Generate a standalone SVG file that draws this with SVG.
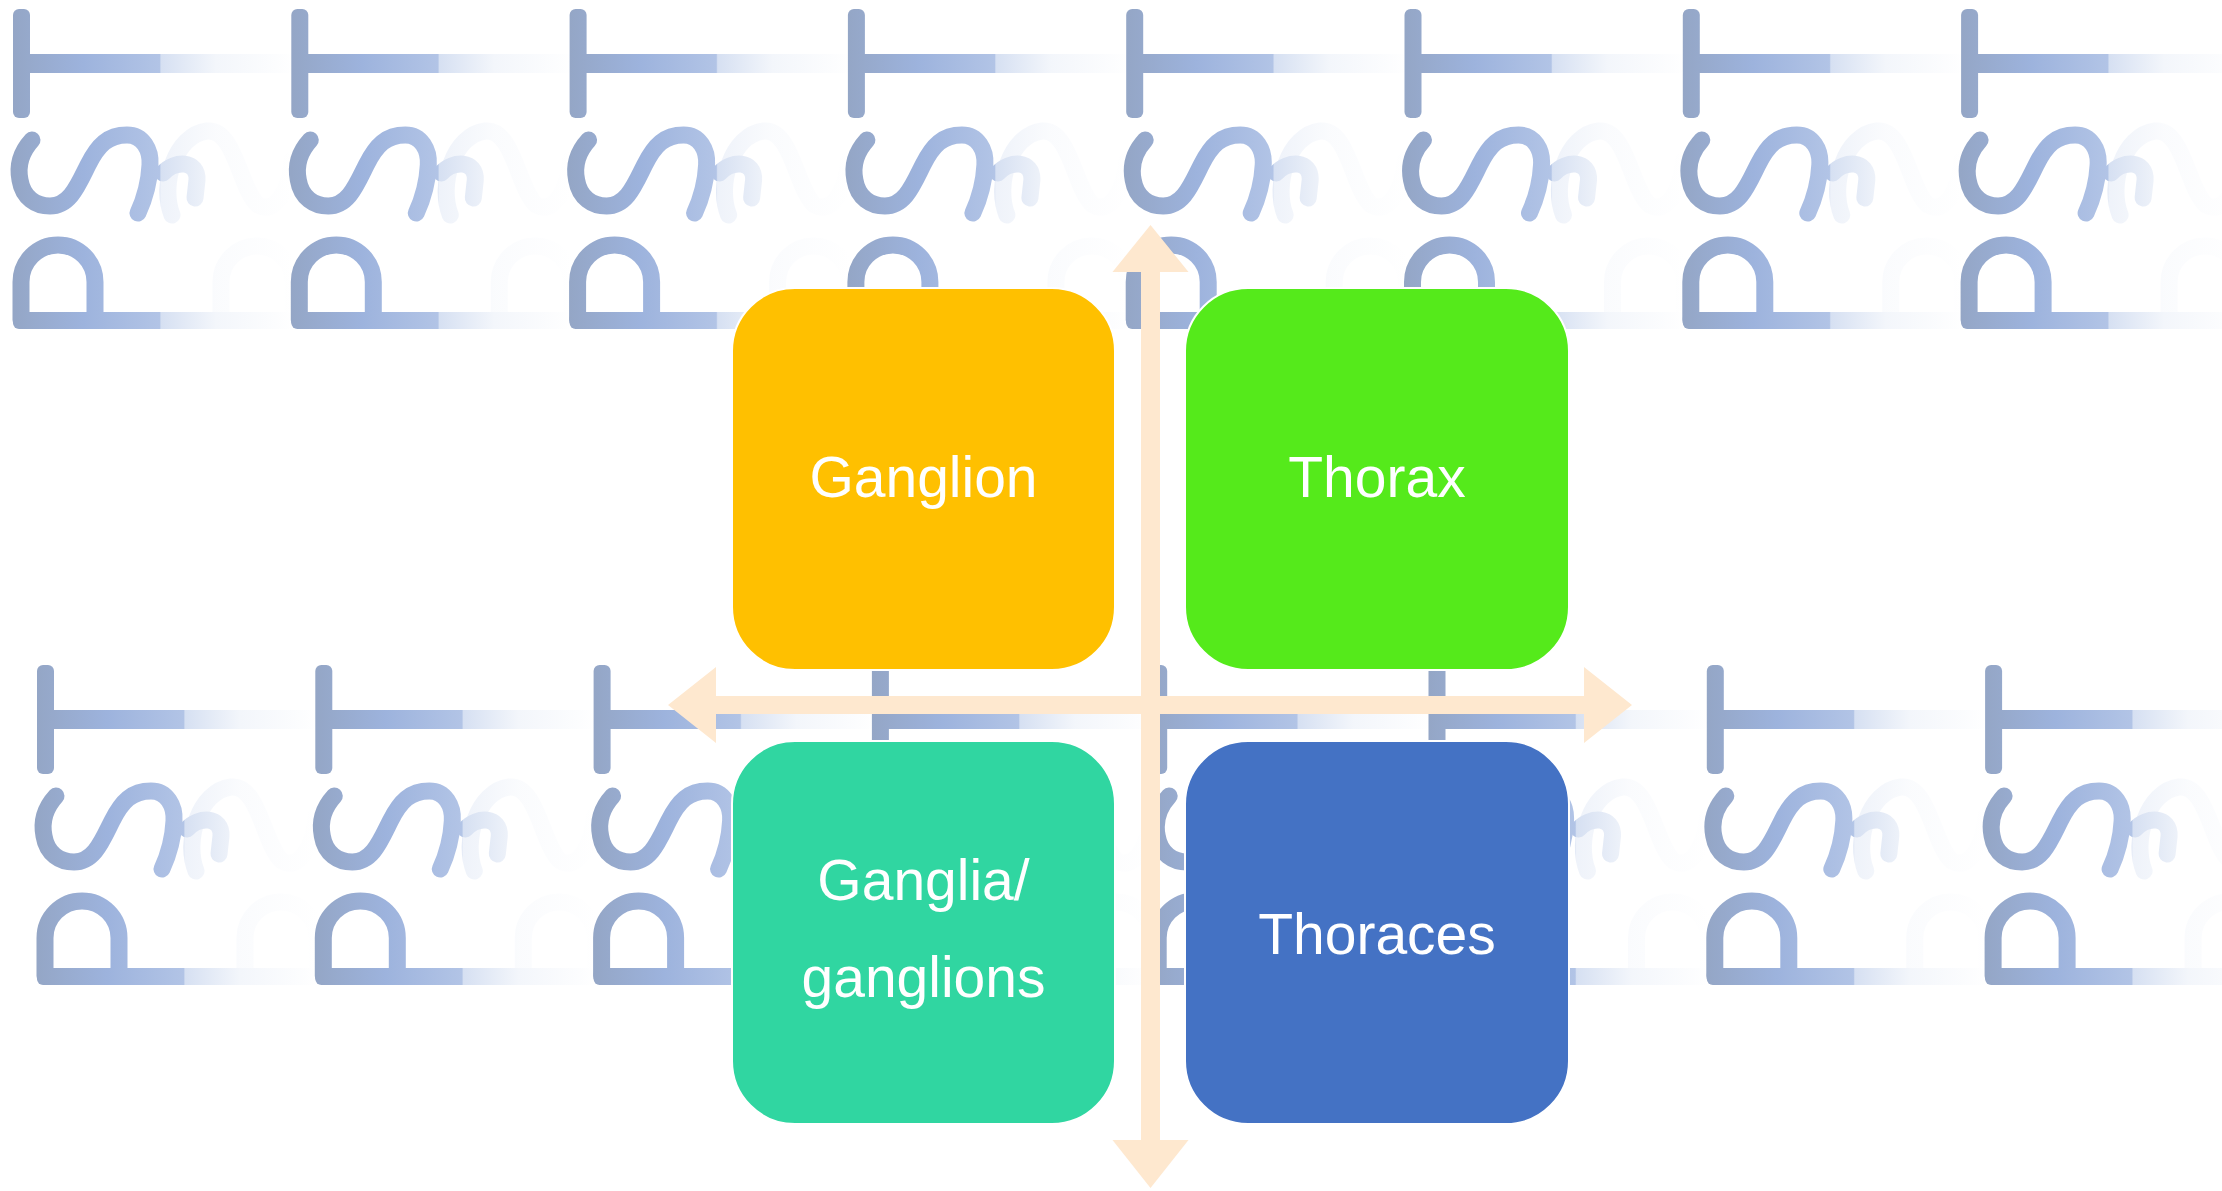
<svg xmlns="http://www.w3.org/2000/svg" xmlns:xlink="http://www.w3.org/1999/xlink" width="2222" height="1191" viewBox="0 0 2222 1191">
  <style>
    .wm-s { fill: none; stroke: url(#wmGrad); stroke-width: 17; stroke-linecap: round; stroke-linejoin: round; }
    .wm-g { fill: none; stroke: url(#wmGrad); stroke-width: 17; stroke-linecap: round; stroke-linejoin: round; opacity: 0.4; }
    .wm-f { fill: url(#wmGrad); }
    .box { stroke: #ffffff; stroke-width: 2; }
    .lbl { font-family: "Liberation Sans", Arial, sans-serif; font-size: 57px; fill: #ffffff; text-anchor: middle; }
    .axis { fill: #FEE8CF; }
  </style>
  <defs>
    <linearGradient id="wmGrad" gradientUnits="userSpaceOnUse" x1="0" y1="0" x2="282" y2="0">
      <stop offset="0" stop-color="#94a6c6"/>
      <stop offset="0.25" stop-color="#9db3dd"/>
      <stop offset="0.52" stop-color="#b2c4e6"/>
      <stop offset="0.525" stop-color="#d6e0f2"/>
      <stop offset="0.72" stop-color="#f3f6fb"/>
      <stop offset="1" stop-color="#ffffff"/>
    </linearGradient>
    <symbol id="logo" overflow="visible">
      <!-- T -->
      <rect class="wm-f" x="0" y="0" width="17" height="109" rx="6"/>
      <rect class="wm-f" x="10" y="45" width="272" height="19" rx="6"/>
      <!-- S -->
      <path class="wm-s" d="M19,131 C8,143 4,156 7,171 C10,189 23,197 37,197 C57,197 65,176 75,156 C85,136 95,126 114,126 C130,126 138,141 137,156 C136,176 131,191 125,204"/>
      <path class="wm-g" d="M159,206 C147,176 162,126 194,122 C222,119 227,181 245,196 C262,206 277,181 279,151"/>
      <path class="wm-s" d="M150,164 C162,151 185,151 184,171 L182,189"/>
      <!-- P -->
      <path class="wm-s" d="M8,311 V273 A37,37 0 0 1 82,273 V311"/>
      <path class="wm-g" d="M208,311 V273 A36,36 0 0 1 280,273 V311"/>
      <rect class="wm-f" x="0" y="303" width="282" height="17" rx="6"/>
    </symbol>
  </defs>

  <rect x="0" y="0" width="2222" height="1191" fill="#ffffff"/>

  <g id="watermark">
    <use xlink:href="#logo" href="#logo" x="13" y="9"/>
    <use xlink:href="#logo" href="#logo" x="291.3" y="9"/>
    <use xlink:href="#logo" href="#logo" x="569.6" y="9"/>
    <use xlink:href="#logo" href="#logo" x="847.9" y="9"/>
    <use xlink:href="#logo" href="#logo" x="1126.2" y="9"/>
    <use xlink:href="#logo" href="#logo" x="1404.5" y="9"/>
    <use xlink:href="#logo" href="#logo" x="1682.8" y="9"/>
    <use xlink:href="#logo" href="#logo" x="1961.1" y="9"/>
    <use xlink:href="#logo" href="#logo" x="37" y="665"/>
    <use xlink:href="#logo" href="#logo" x="315.3" y="665"/>
    <use xlink:href="#logo" href="#logo" x="593.6" y="665"/>
    <use xlink:href="#logo" href="#logo" x="871.9" y="665"/>
    <use xlink:href="#logo" href="#logo" x="1150.2" y="665"/>
    <use xlink:href="#logo" href="#logo" x="1428.5" y="665"/>
    <use xlink:href="#logo" href="#logo" x="1706.8" y="665"/>
    <use xlink:href="#logo" href="#logo" x="1985.1" y="665"/>
  </g>

  <g id="connectors">
    <polygon class="axis" points="668,705 716,667 716,696 1584,696 1584,667 1632,705 1584,743 1584,714 716,714 716,743"/>
    <polygon class="axis" points="1150.5,225 1188.5,272 1160,272 1160,1140 1188.5,1140 1150.5,1188 1112.5,1140 1141,1140 1141,272 1112.5,272"/>
  </g>

  <g id="node-ganglion">
    <rect class="box" x="732" y="288" width="383" height="382" rx="63" fill="#FFC000"/>
    <text class="lbl" x="923.5" y="497">Ganglion</text>
  </g>
  <g id="node-thorax">
    <rect class="box" x="1185" y="288" width="384" height="382" rx="63" fill="#55EA1B"/>
    <text class="lbl" x="1377" y="497">Thorax</text>
  </g>
  <g id="node-ganglia">
    <rect class="box" x="732" y="741" width="383" height="383" rx="63" fill="#30D6A1"/>
    <text class="lbl" x="923.5" y="900">Ganglia/</text>
    <text class="lbl" x="923.5" y="997">ganglions</text>
  </g>
  <g id="node-thoraces">
    <rect class="box" x="1185" y="741" width="384" height="383" rx="63" fill="#4472C4"/>
    <text class="lbl" x="1377" y="954">Thoraces</text>
  </g>
</svg>
